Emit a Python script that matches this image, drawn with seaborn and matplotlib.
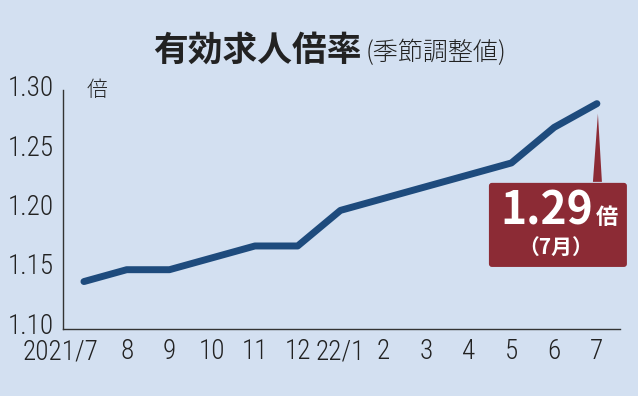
import matplotlib
matplotlib.use("Agg")
import matplotlib.pyplot as plt
import matplotlib.transforms as mtransforms
import seaborn as sns
import pandas as pd
from matplotlib.patches import FancyBboxPatch, Polygon

months = ["2021/7", "8", "9", "10", "11", "12", "22/1", "2", "3", "4", "5", "6", "7"]
ratio = [1.14, 1.15, 1.15, 1.16, 1.17, 1.17, 1.20, 1.21, 1.22, 1.23, 1.24, 1.27, 1.29]
yticks = [1.10, 1.15, 1.20, 1.25, 1.30]
ytick_labels = ["1.10", "1.15", "1.20", "1.25", "1.30"]

BG = "#d3e0f1"
LINE = "#1e4b7d"
BOX = "#8c2b35"
INK = "#222222"
NARROW = ["Roboto Condensed", "Archivo Narrow", "Asap Condensed", "DejaVu Sans"]
CJK = ["Noto Sans CJK JP", "DejaVu Sans"]

sns.set_theme(style="white")
plt.rcParams["font.family"] = NARROW

df = pd.DataFrame({"x": range(len(months)), "ratio": ratio})

fig = plt.figure(figsize=(6.38, 3.96), dpi=100, facecolor=BG)
ax = fig.add_axes([63 / 638, 1 - 329 / 396, (620 - 63) / 638, (329 - 90) / 396])
ax.set_facecolor(BG)

sns.lineplot(data=df, x="x", y="ratio", ax=ax, color=LINE, linewidth=5.0,
             solid_capstyle="round", solid_joinstyle="round")

ax.set_xlim(-0.49, 12.54)
ax.set_ylim(1.10, 1.3015)
ax.set_xticks(range(len(months)))
ax.set_xticklabels(months)
ax.set_yticks(yticks)
ax.set_yticklabels(ytick_labels)
ax.set_xlabel("")
ax.set_ylabel("")

for s in ["top", "right"]:
    ax.spines[s].set_visible(False)
for s in ["left", "bottom"]:
    ax.spines[s].set_color("#333333")
    ax.spines[s].set_linewidth(1.0)

ax.tick_params(axis="y", direction="in", length=10, width=0.9, color="#333333",
               labelsize=19.5, labelcolor=INK, pad=6.5)
ax.tick_params(axis="x", direction="in", length=4, width=0.9, color="#333333",
               labelsize=19.5, labelcolor=INK, pad=6.5)
for lab in ax.get_xticklabels() + ax.get_yticklabels():
    lab.set_fontweight("light")
for lab in ax.get_yticklabels():
    lab.set_transform(lab.get_transform() +
                      mtransforms.ScaledTranslation(0, 6 / 100, fig.dpi_scale_trans))
first = ax.get_xticklabels()[0]
first.set_horizontalalignment("right")
first.set_transform(first.get_transform() +
                    mtransforms.ScaledTranslation(15 / 100, 0, fig.dpi_scale_trans))

px_x = 1 / 42.75
px_y = 0.2 / 237

# unit label
ax.text(0.05, 1.10 + (329 - 90) * px_y, "倍", fontsize=15, color=INK, va="center",
        ha="left", family=CJK, fontweight="light")

# title
fig.text(362 / 638, 1 - 50 / 396, "有効求人倍率", fontsize=25, fontweight="bold",
         color=INK, ha="right", va="center", family=CJK)
fig.text(366 / 638, 1 - 53 / 396, "(季節調整値)", fontsize=18, color=INK,
         ha="left", va="center", family=CJK, fontweight="light")

# annotation box
last_x = len(ratio) - 1
last_y = ratio[-1]
box_x0 = last_x - 108 * px_x
box_w = 138 * px_x
box_y1 = 1.10 + (329 - 183) * px_y
box_h = 84 * px_y
box = FancyBboxPatch((box_x0, box_y1 - box_h), box_w, box_h,
                     boxstyle="round,pad=0,rounding_size=0.07",
                     facecolor=BOX, edgecolor="none", clip_on=False, zorder=5,
                     mutation_aspect=px_y / px_x)
ax.add_patch(box)
tri = Polygon([(last_x - 4 * px_x, box_y1 + 1 * px_y), (last_x + 5 * px_x, box_y1 + 1 * px_y),
               (last_x + 1 * px_x, last_y - 10 * px_y)], closed=True, facecolor=BOX,
              edgecolor="none", clip_on=False, zorder=5)
ax.add_patch(tri)
ax.text(last_x - 50 * px_x, 1.10 + (329 - 212) * px_y, f"{last_y:.2f}", fontsize=32,
        fontweight="bold", color="white", ha="center", va="center", zorder=6,
        family=CJK, clip_on=False)
ax.text(last_x + 10 * px_x, 1.10 + (329 - 218) * px_y, "倍", fontsize=16,
        fontweight="bold", color="white", ha="center", va="center", zorder=6,
        family=CJK, clip_on=False)
ax.text(last_x - 41 * px_x, 1.10 + (329 - 247) * px_y, "（7月）", fontsize=15,
        fontweight="bold", color="white", ha="center", va="center", zorder=6,
        family=CJK, clip_on=False)

fig.savefig("out.png", dpi=100, facecolor=BG)
